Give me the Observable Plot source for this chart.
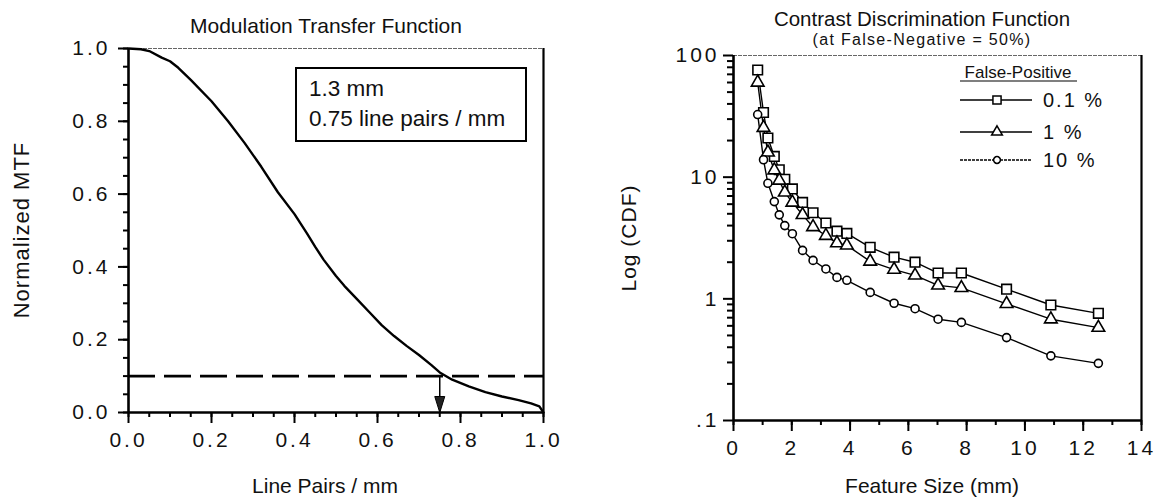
<!DOCTYPE html>
<html><head><meta charset="utf-8">
<script src="https://cdn.jsdelivr.net/npm/d3@7"></script>
<script src="https://cdn.jsdelivr.net/npm/@observablehq/plot@0.6"></script>
<style>
body{margin:0;background:#fff;}
#wrap{position:relative;width:1163px;height:499px;overflow:hidden;}
#left,#right,#overlay{position:absolute;top:0;}
#left{left:0;} #right{left:580px;} #overlay{left:0;pointer-events:none;}
svg text{font-family:"Liberation Sans",Arial,Helvetica,sans-serif;fill:#111;}
g[aria-label$="tick label"] text{letter-spacing:3px;}
</style></head><body>
<div id="wrap"><div id="left"></div><div id="right"></div><svg id="overlay" width="1163" height="499"></svg></div>
<script>
// ---- Left chart: Modulation Transfer Function ----
const mtfX = [0, 0.03, 0.05, 0.08, 0.10, 0.12, 0.15, 0.20, 0.24, 0.28, 0.32, 0.36, 0.40, 0.43, 0.45, 0.47, 0.50, 0.52, 0.55, 0.58, 0.61, 0.64, 0.67, 0.70, 0.73, 0.75, 0.78, 0.82, 0.86, 0.90, 0.94, 0.97, 0.99, 1.00];
const mtfY = [1.0, 0.998, 0.993, 0.975, 0.965, 0.947, 0.914, 0.855, 0.80, 0.74, 0.675, 0.605, 0.545, 0.492, 0.455, 0.42, 0.375, 0.348, 0.312, 0.276, 0.24, 0.21, 0.183, 0.158, 0.13, 0.11, 0.09, 0.072, 0.056, 0.044, 0.034, 0.025, 0.017, 0.0];
const cutoffLevel = 0.1;
const cutoffFreq = 0.75;
const mtfTicks = [0, 0.2, 0.4, 0.6, 0.8, 1.0];
const boxLines = ["1.3 mm", "0.75 line pairs / mm"];

// ---- Right chart: Contrast Discrimination Function ----
const featureSize = [0.83, 1.03, 1.18, 1.40, 1.57, 1.76, 2.02, 2.37, 2.73, 3.17, 3.55, 3.89, 4.69, 5.51, 6.23, 7.02, 7.82, 9.37, 10.89, 12.52];
const cdfFP01 = [76, 34, 21, 14.8, 11.5, 9.6, 8.0, 6.2, 5.1, 4.2, 3.6, 3.45, 2.65, 2.2, 2.0, 1.63, 1.63, 1.2, 0.89, 0.76];
const cdfFP1  = [60, 25.5, 16, 11.4, 9.4, 7.5, 6.2, 4.9, 3.9, 3.3, 2.87, 2.75, 2.03, 1.74, 1.56, 1.29, 1.23, 0.91, 0.68, 0.58];
const cdfFP10 = [32.7, 13.9, 8.9, 6.3, 4.9, 4.0, 3.43, 2.5, 2.07, 1.76, 1.5, 1.42, 1.13, 0.92, 0.83, 0.68, 0.64, 0.48, 0.34, 0.295];
const seriesNames = ["0.1 %", "1 %", "10 %"];
const seriesSymbols = ["square", "triangle", "circle"];
const seriesR = [5.4, 4.7, 4.0];
const cdfYTicks = [0.1, 1, 10, 100];
const cdfYTickLabels = [".1", "1", "10", "100"];
const cdfXTicks = [0, 2, 4, 6, 8, 10, 12, 14];

const mtfData = mtfX.map((x, i) => ({x, y: mtfY[i]}));
const cdfSeries = [cdfFP01, cdfFP1, cdfFP10];
const cdfData = cdfSeries.flatMap((vals, s) => vals.map((v, i) => ({x: featureSize[i], y: v, s: seriesNames[s]})));

const arrowHead = {draw(ctx) { ctx.moveTo(0, 0); ctx.lineTo(-5, -16); ctx.lineTo(5, -16); ctx.closePath(); }};
const FONT = '"Liberation Sans", Arial, Helvetica, sans-serif';

const left = Plot.plot({
  width: 580, height: 499,
  marginLeft: 128, marginRight: 37, marginTop: 48, marginBottom: 87,
  style: {fontFamily: FONT, fontSize: "21px", background: "transparent", overflow: "visible"},
  x: {domain: [0, 1]},
  y: {domain: [0, 1]},
  marks: [
    Plot.axisX({ticks: d3.range(0, 1.0001, 0.05), tickSize: 5, tickFormat: () => "", label: null, strokeWidth: 2}),
    Plot.axisX({ticks: mtfTicks, tickSize: 11, tickPadding: 9, tickFormat: d3.format(".1f"), label: null, strokeWidth: 2}),
    Plot.axisY({ticks: d3.range(0, 1.0001, 0.05), tickSize: 5, tickFormat: () => "", label: null, strokeWidth: 2}),
    Plot.axisY({ticks: mtfTicks, tickSize: 10, tickPadding: 8, tickFormat: d3.format(".1f"), label: null, strokeWidth: 2}),
    Plot.ruleY([1], {stroke: "#666", strokeWidth: 1, strokeDasharray: "4,1"}),
    Plot.ruleX([1], {stroke: "#000", strokeWidth: 2.2}),
    Plot.ruleX([0], {stroke: "#000", strokeWidth: 2.6}),
    Plot.ruleY([0], {stroke: "#000", strokeWidth: 2.6}),
    Plot.ruleY([cutoffLevel], {stroke: "#000", strokeWidth: 2.8, strokeDasharray: "27,9"}),
    Plot.ruleX([cutoffFreq], {y1: 0, y2: cutoffLevel, stroke: "#000", strokeWidth: 1.5}),
    Plot.dot([{x: cutoffFreq, y: 0}], {x: "x", y: "y", symbol: arrowHead, r: 5, fill: "#222", stroke: "#000", strokeWidth: 1}),
    Plot.line(mtfData, {x: "x", y: "y", stroke: "#000", strokeWidth: 2.4})
  ]
});
document.getElementById("left").appendChild(left);

const right = Plot.plot({
  width: 583, height: 499,
  marginLeft: 153, marginRight: 22, marginTop: 55, marginBottom: 79,
  style: {fontFamily: FONT, fontSize: "21px", background: "transparent", overflow: "visible"},
  x: {domain: [0, 14]},
  y: {type: "log", domain: [0.1, 100]},
  marks: [
    Plot.axisX({ticks: d3.range(0, 14.001, 1), tickSize: 5, tickFormat: () => "", label: null, strokeWidth: 2}),
    Plot.axisX({ticks: cdfXTicks, tickSize: 11, tickPadding: 9, tickFormat: d => String(d), label: null, strokeWidth: 2}),
    Plot.axisY({ticks: [0.2,0.3,0.4,0.5,0.6,0.7,0.8,0.9,2,3,4,5,6,7,8,9,20,30,40,50,60,70,80,90], tickSize: 6, tickFormat: () => "", label: null, strokeWidth: 2}),
    Plot.axisY({ticks: cdfYTicks, tickSize: 10, tickPadding: 4, tickFormat: d => cdfYTickLabels[cdfYTicks.indexOf(d)], label: null, strokeWidth: 2}),
    Plot.ruleY([100], {stroke: "#666", strokeWidth: 1, strokeDasharray: "4,1"}),
    Plot.ruleX([14], {stroke: "#000", strokeWidth: 2.2}),
    Plot.ruleX([0], {stroke: "#000", strokeWidth: 2.6}),
    Plot.ruleY([0.1], {stroke: "#000", strokeWidth: 2.6}),
    Plot.line(cdfData, {x: "x", y: "y", z: "s", stroke: "#000", strokeWidth: 1.4}),
    ...seriesNames.map((name, s) =>
      Plot.dot(cdfData.filter(d => d.s === name), {x: "x", y: "y", symbol: seriesSymbols[s], r: seriesR[s], fill: "#fff", stroke: "#000", strokeWidth: 1.6}))
  ]
});
document.getElementById("right").appendChild(right);

// ---- Overlay: titles, axis titles, annotation box, legend ----
const ov = d3.select("#overlay");
function txt(x, y, s, size, anchor = "middle", extra = {}) {
  const t = ov.append("text").attr("x", x).attr("y", y).attr("text-anchor", anchor)
    .style("font-size", size + "px").text(s);
  for (const k in extra) t.attr(k, extra[k]);
  return t;
}
txt(326, 33, "Modulation Transfer Function", 21);
txt(325, 493, "Line Pairs / mm", 21);
txt(0, 0, "Normalized  MTF", 22, "middle", {transform: "translate(29,230) rotate(-90)", "letter-spacing": "1px"});

txt(922, 26, "Contrast Discrimination Function", 20.5);
txt(922, 45, "(at False-Negative = 50%)", 16, "middle", {"letter-spacing": "1.3px"});
txt(932, 493, "Feature Size (mm)", 21);
txt(0, 0, "Log (CDF)", 21, "middle", {transform: "translate(636,238) rotate(-90)", "letter-spacing": "1px"});

// annotation box
ov.append("rect").attr("x", 296).attr("y", 68).attr("width", 230).attr("height", 73)
  .attr("fill", "none").attr("stroke", "#000").attr("stroke-width", 2);
txt(309, 96, boxLines[0], 22.5, "start");
txt(309, 126, boxLines[1], 22.5, "start");

// legend
const LX = 960;
txt(LX + 58, 78, "False-Positive", 17);
ov.append("line").attr("x1", LX).attr("x2", LX + 117).attr("y1", 81).attr("y2", 81).attr("stroke", "#000").attr("stroke-width", 1.2);
const legY = [100, 132, 160];
const legDash = [null, null, "3,1"];
seriesNames.forEach((name, s) => {
  ov.append("line").attr("x1", LX).attr("x2", LX + 72).attr("y1", legY[s]).attr("y2", legY[s])
    .attr("stroke", "#000").attr("stroke-width", 1.3).attr("stroke-dasharray", legDash[s]);
  ov.append("path").attr("d", d3.symbol(d3["symbol" + seriesSymbols[s][0].toUpperCase() + seriesSymbols[s].slice(1)], Math.PI * (seriesR[s] * 0.85) ** 2)())
    .attr("transform", `translate(${LX + 37},${legY[s]})`).attr("fill", "#fff").attr("stroke", "#000").attr("stroke-width", 1.5);
  txt(LX + 83, legY[s] + 7, name, 20, "start", {"letter-spacing": "2px"});
});
</script>
</body></html>
